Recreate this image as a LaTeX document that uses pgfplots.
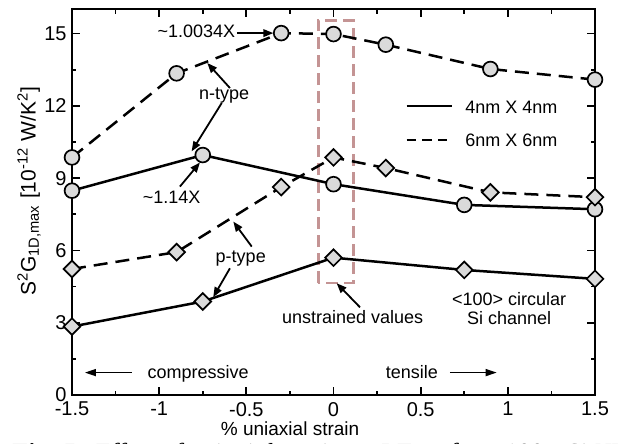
\documentclass[border=0pt]{standalone}
\usepackage{fontspec}
\setmainfont{Liberation Sans}
\newfontfamily\capfont{Liberation Serif}
\usepackage{pgfplots}
\pgfplotsset{compat=1.18}
\usetikzlibrary{arrows.meta,calc}
\definecolor{markfill}{RGB}{218,218,218}
\definecolor{boxred}{RGB}{196,148,148}

\begin{document}
\begin{tikzpicture}[
  ann/.style={font=\fontsize{9}{9.5}\selectfont, anchor=base, inner sep=0pt, align=center},
  arr/.style={-{Triangle[length=5pt,width=3.8pt]}, line width=0.9pt},
]
\begin{axis}[name=ax, scale only axis, width=261.5pt, height=192.75pt,
  xmin=-1.5, xmax=1.5, ymin=0, ymax=16,
  xtick={-1.5,-1,-0.5,0,0.5,1,1.5}, ytick={0,3,6,9,12,15},
  xticklabels={-1.5,-1,-0.5,0,0.5,1,1.5},
  yticklabels={0,3,6,9,12,15},
  minor x tick num=1, minor y tick num=1,
  tick align=inside, major tick length=4pt, minor tick length=2.2pt,
  every tick/.style={line width=0.9pt, black},
  axis line style={line width=1pt},
  /pgf/number format/assume math mode=true,
  ticklabel style={font=\fontsize{10}{12}\selectfont},
  yticklabel style={xshift=0.8pt},
  xlabel={\% uniaxial strain},
  xlabel style={at={(axis description cs:0.417,-0.106)}, anchor=base, font=\fontsize{9.5}{11}\selectfont, inner sep=0pt},
  ylabel={S\textsuperscript{2}G\textsubscript{1D,max} [10\textsuperscript{-12} W/K\textsuperscript{2}]},
  ylabel style={at={(axis description cs:-0.082,0.528)}, anchor=center, font=\fontsize{10.5}{12}\selectfont, inner sep=0pt},
  clip=false,
  solid4/.style={black, line width=1.25pt, solid},
  dash6/.style={black, line width=1.25pt, dash pattern=on 7pt off 4pt},
  circ/.style={mark=*, mark size=3.7pt, mark options={solid, fill=markfill, draw=black, line width=0.85pt}},
  diam/.style={mark=square*, mark size=2.95pt, mark options={solid, rotate=45, fill=markfill, draw=black, line width=0.85pt}},
]
% unstrained box
\draw[boxred, line width=1.2pt, dash pattern=on 6pt off 3pt] (axis cs:-0.087,4.64) rectangle (axis cs:0.114,15.55);

% n-type 6nm x 6nm
\addplot[dash6, circ] coordinates {(-1.5,9.86) (-0.9,13.35) (-0.3,15.02) (0,14.98) (0.3,14.54) (0.9,13.53) (1.5,13.09)};
% n-type 4nm x 4nm
\addplot[solid4, circ] coordinates {(-1.5,8.48) (-0.75,9.96) (0,8.75) (0.75,7.89) (1.5,7.71)};
% p-type 6nm x 6nm
\addplot[dash6, diam] coordinates {(-1.5,5.23) (-0.9,5.93) (-0.3,8.63) (0,9.86) (0.3,9.42) (0.9,8.41) (1.5,8.21)};
% p-type 4nm x 4nm
\addplot[solid4, diam] coordinates {(-1.5,2.84) (-0.75,3.88) (0,5.70) (0.75,5.19) (1.5,4.82)};

% legend
\draw[line width=1.1pt] (axis cs:0.42,11.98) -- (axis cs:0.678,11.98);
\node[ann, anchor=base west] at (axis cs:0.754,11.70) {4nm X 4nm};
\draw[line width=1.1pt, dash pattern=on 4.6pt off 3.2pt] (axis cs:0.42,10.59) -- (axis cs:0.678,10.59);
\node[ann, anchor=base west] at (axis cs:0.754,10.32) {6nm X 6nm};

% annotations
\node[ann] at (axis cs:-0.786,14.82) {\textasciitilde1.0034X};
\draw[arr] (axis cs:-0.554,15.02) -- (axis cs:-0.345,15.02);
\node[ann] at (axis cs:-0.628,12.26) {n-type};
\draw[arr] (axis cs:-0.594,12.74) -- (axis cs:-0.724,13.78);
\draw[arr] (axis cs:-0.641,12.12) -- (axis cs:-0.814,10.11);
\node[ann] at (axis cs:-0.928,7.94) {\textasciitilde1.14X};
\draw[arr] (axis cs:-0.881,8.65) -- (axis cs:-0.766,9.65);
\node[ann] at (axis cs:-0.532,5.50) {p-type};
\draw[arr] (axis cs:-0.469,6.16) -- (axis cs:-0.575,7.20);
\draw[arr] (axis cs:-0.594,5.26) -- (axis cs:-0.690,4.06);
\node[ann] at (axis cs:0.11,2.98) {unstrained values};
\draw[arr] (axis cs:0.152,3.64) -- (axis cs:0.018,4.64);
\node[ann] at (axis cs:1.007,2.91) {<100> circular\\Si channel};
\node[ann] at (axis cs:-0.776,0.69) {compressive};
\draw[-{Triangle[length=5.5pt,width=3.5pt]}, line width=0.75pt] (axis cs:-1.158,0.93) -- (axis cs:-1.426,0.93);
\node[ann] at (axis cs:0.449,0.69) {tensile};
\draw[-{Triangle[length=5.5pt,width=3.5pt]}, line width=0.75pt] (axis cs:0.668,0.93) -- (axis cs:0.936,0.93);
\end{axis}
\node[anchor=base west, inner sep=0pt, font=\capfont\fontsize{13}{15}\selectfont] at ($(ax.south west)+(-30pt,-33.3pt)$) {\textbf{Fig. 5:} \textit{Effect of uniaxial strain on PF\textsubscript{max} for <100> Si NWs}};
\pgfresetboundingbox
\useasboundingbox ($(ax.south west)+(-36pt,-24.5pt)$) rectangle ($(ax.north east)+(13pt,4.75pt)$);
\end{tikzpicture}
\end{document}
